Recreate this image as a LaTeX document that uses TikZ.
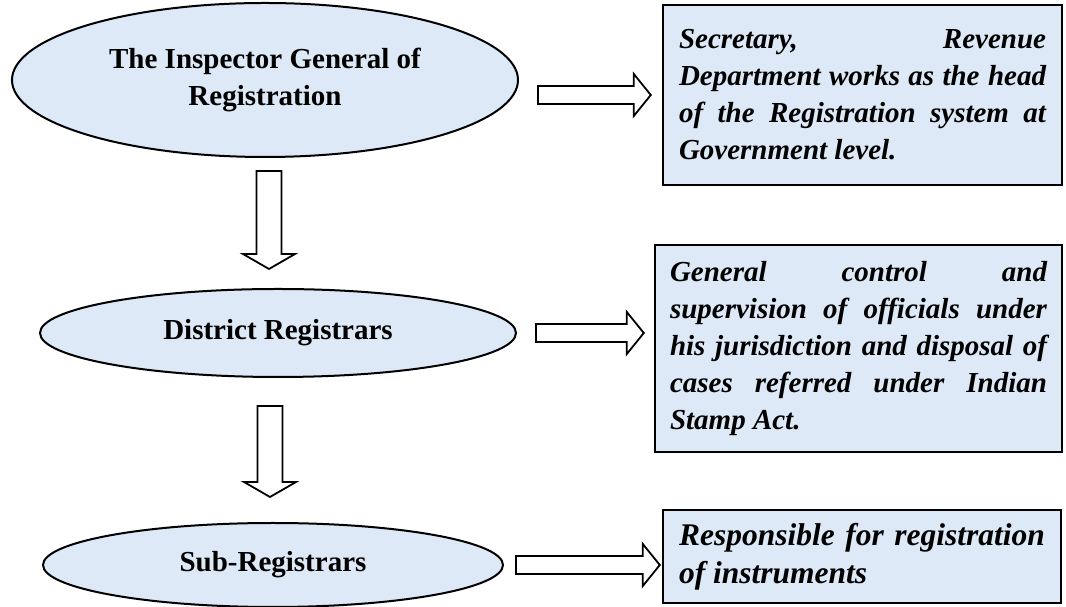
\documentclass[tikz,border=0pt]{standalone}
\usepackage{fontspec}
\setmainfont{Liberation Serif}
\usetikzlibrary{shapes.geometric,calc}
\definecolor{paleblue}{RGB}{221,233,246}

\begin{document}
\begin{tikzpicture}[x=1pt, y=1pt, line join=miter,
  post/.style={ellipse, draw, line width=2pt, fill=paleblue, inner sep=0pt, align=center, font=\fontsize{29}{37}\selectfont\bfseries},
  duty/.style={rectangle, draw, line width=2.4pt, fill=paleblue, inner xsep=16pt, inner ysep=4pt, align=justify, font=\fontsize{29}{37}\selectfont\bfseries\itshape},
  harrow/.style={line width=1.8pt, to path={($(\tikztostart)+(0,9)$) -- ($(\tikztotarget)+(-17,9)$) -- ($(\tikztotarget)+(-17,21)$) -- (\tikztotarget) -- ($(\tikztotarget)+(-17,-21)$) -- ($(\tikztotarget)+(-17,-9)$) -- ($(\tikztostart)+(0,-9)$) -- cycle}},
  varrow/.style={line width=1.8pt, to path={($(\tikztostart)+(-12.5,0)$) -- ($(\tikztotarget)+(-12.5,15)$) -- ($(\tikztotarget)+(-26,15)$) -- (\tikztotarget) -- ($(\tikztotarget)+(26,15)$) -- ($(\tikztotarget)+(12.5,15)$) -- ($(\tikztostart)+(12.5,0)$) -- cycle}}]
\useasboundingbox (0,0) rectangle (1066,607);

% offices on the left
\node[post, minimum width=506, minimum height=154] (ig) at (265,527) {The Inspector General of\\Registration};
\node[post, minimum width=476, minimum height=88] (dist) at (278,274) {District Registrars};
\node[post, minimum width=460, minimum height=84] (sub) at (273,42) {Sub-Registrars};

% what each office does
\node[duty, text width=367, minimum height=180] (sec) at (862.5,512) {Secretary, Revenue\linebreak Department works as the head\linebreak of the Registration system at\linebreak Government level.};
\node[duty, text width=377, inner xsep=15pt, minimum height=207] (ctrl) at (858.5,258.5) {General control and\linebreak supervision of officials under\linebreak his jurisdiction and disposal of\linebreak cases referred under Indian\linebreak Stamp Act.};
\node[duty, text width=366, minimum height=93, font=\fontsize{31.5}{38}\selectfont\bfseries\itshape] (resp) at (862,50.5) {Responsible for registration\linebreak of instruments};

% block arrows
\coordinate (r1s) at ($(ig.east |- sec.west)+(19,0)$);
\coordinate (r1e) at ($(sec.west)+(-11,0)$);
\coordinate (r2s) at ($(dist.east)+(19,0)$);
\coordinate (r2e) at ($(dist.east -| ctrl.west)+(-10,0)$);
\coordinate (r3s) at ($(sub.east)+(12,0)$);
\coordinate (r3e) at ($(sub.east -| resp.west)+(-2,0)$);
\draw[harrow] (r1s) to (r1e);
\draw[harrow] (r2s) to (r2e);
\draw[harrow] (r3s) to (r3e);

\coordinate (d1s) at ($(ig.south)+(4,-13)$);
\coordinate (d1e) at ($(ig.south |- dist.north)+(4,19)$);
\coordinate (d2s) at ($(dist.south -| d1s)+(1,-28)$);
\coordinate (d2e) at ($(d1s |- sub.north)+(1,25)$);
\draw[varrow] (d1s) to (d1e);
\draw[varrow] (d2s) to (d2e);

\end{tikzpicture}
\end{document}
